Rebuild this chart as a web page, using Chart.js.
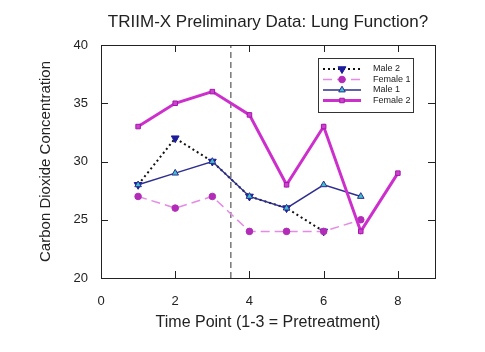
<!DOCTYPE html>
<html>
<head>
<meta charset="utf-8">
<script src="https://cdn.jsdelivr.net/npm/chart.js@4"></script>
<style>
  html, body { margin: 0; padding: 0; background: #fff; }
  #wrap { width: 485px; height: 352px; }
</style>
</head>
<body>
<div id="wrap"><canvas id="c" width="485" height="352"></canvas></div>
<script>
// values
const male2X = [1, 2, 3, 4, 5, 6];
const male2Y = [28, 32, 30, 27, 26, 24];
const female1X = [1, 2, 3, 4, 5, 6, 7];
const female1Y = [27, 26, 27, 24, 24, 24, 25];
const male1X = [1, 2, 3, 4, 5, 6, 7];
const male1Y = [28, 29, 30, 27, 26, 28, 27];
const female2X = [1, 2, 3, 4, 5, 6, 7, 8];
const female2Y = [33, 35, 36, 34, 28, 33, 24, 29];
const xTicks = [0, 2, 4, 6, 8];
const splitX = 3.5;
const yRange = [20, 40];
const seriesNames = ["Male 2", "Female 1", "Male 1", "Female 2"];

function pts(xs, ys) { return xs.map((x, i) => ({ x: x, y: ys[i] })); }

const FONT = "'Liberation Sans', Arial, sans-serif";

// frame + inward ticks, title, legend
const framePlugin = {
  id: "frame",
  afterDraw(chart) {
    const ctx = chart.ctx, a = chart.chartArea;
    const xs = chart.scales.x, ys = chart.scales.y;
    ctx.save();
    ctx.strokeStyle = "#222";
    ctx.lineWidth = 1;
    ctx.strokeRect(a.left + 0.5, a.top + 0.5, a.right - a.left, a.bottom - a.top);
    ctx.beginPath();
    xs.ticks.forEach(t => {
      if (t.value <= xs.min || t.value >= xs.max) return;
      const px = Math.round(xs.getPixelForValue(t.value)) + 0.5;
      ctx.moveTo(px, a.bottom); ctx.lineTo(px, a.bottom - 7);
      ctx.moveTo(px, a.top); ctx.lineTo(px, a.top + 7);
    });
    ys.ticks.forEach(t => {
      if (t.value <= ys.min || t.value >= ys.max) return;
      const py = Math.round(ys.getPixelForValue(t.value)) + 0.5;
      ctx.moveTo(a.left, py); ctx.lineTo(a.left + 7, py);
      ctx.moveTo(a.right, py); ctx.lineTo(a.right - 7, py);
    });
    ctx.stroke();

    // title
    ctx.fillStyle = "#222";
    ctx.font = "17px " + FONT;
    ctx.textAlign = "center";
    ctx.textBaseline = "middle";
    ctx.fillText("TRIIM-X Preliminary Data: Lung Function?", (a.left + a.right) / 2, 22);

    // legend box
    const bx = 318, by = 58, bw = 95, bh = 54;
    ctx.fillStyle = "#fff";
    ctx.fillRect(bx, by, bw, bh);
    ctx.strokeStyle = "#333";
    ctx.strokeRect(bx + 0.5, by + 0.5, bw, bh);
    ctx.font = "9px " + FONT;
    ctx.textAlign = "left";
    seriesNames.forEach((name, i) => {
      const ds = chart.data.datasets.find(d => d.label === name);
      const yy = by + 11 + i * 10.5;
      ctx.save();
      ctx.strokeStyle = ds.borderColor;
      ctx.lineWidth = ds.borderWidth;
      ctx.setLineDash(ds.borderDash || []);
      ctx.beginPath();
      ctx.moveTo(bx + 5, yy); ctx.lineTo(bx + 43, yy);
      ctx.stroke();
      ctx.setLineDash([]);
      ctx.fillStyle = ds.pointBackgroundColor;
      ctx.strokeStyle = ds.pointBorderColor;
      ctx.lineWidth = ds.pointBorderWidth;
      Chart.helpers.drawPoint(ctx, {
        pointStyle: ds.pointStyle, rotation: ds.pointRotation || 0,
        radius: ds.pointRadius, borderWidth: ds.pointBorderWidth
      }, bx + 24, yy);
      ctx.restore();
      ctx.fillStyle = "#222";
      ctx.fillText(name, bx + 55, yy);
    });
    ctx.restore();
  }
};

new Chart(document.getElementById("c"), {
  type: "line",
  data: {
    datasets: [
      {
        label: "Female 2", data: pts(female2X, female2Y),
        borderColor: "#cc2fcc", borderWidth: 3,
        pointStyle: "rect", pointRadius: 3.2, pointBackgroundColor: "#d040d0",
        pointBorderColor: "#a018a8", pointBorderWidth: 1
      },
      {
        label: "Male 1", data: pts(male1X, male1Y),
        borderColor: "#2e2e90", borderWidth: 1.5,
        pointStyle: "triangle", pointRadius: 3.8, pointBackgroundColor: "#3fc0cc",
        pointBorderColor: "#2e2e90", pointBorderWidth: 1
      },
      {
        label: "Female 1", data: pts(female1X, female1Y),
        borderColor: "#e58ae5", borderWidth: 1.5, borderDash: [9, 5],
        pointStyle: "circle", pointRadius: 3.3, pointBackgroundColor: "#b22cb8",
        pointBorderColor: "#b22cb8", pointBorderWidth: 1
      },
      {
        label: "Male 2", data: pts(male2X, male2Y),
        borderColor: "#111", borderWidth: 2, borderDash: [2, 3],
        pointStyle: "triangle", pointRotation: 180, pointRadius: 4.5,
        pointBackgroundColor: "#1c1c9c", pointBorderColor: "#1c1c9c", pointBorderWidth: 1
      },
      {
        label: "split", data: [{ x: splitX, y: yRange[0] }, { x: splitX, y: yRange[1] }],
        borderColor: "#333", borderWidth: 1, borderDash: [6, 4], pointRadius: 0
      }
    ]
  },
  options: {
    responsive: false,
    animation: false,
    layout: { padding: { top: 45, right: 50, left: 0, bottom: 0 } },
    plugins: { legend: { display: false }, tooltip: { enabled: false } },
    elements: { line: { tension: 0 } },
    scales: {
      x: {
        type: "linear", min: 0, max: 9,
        grid: { display: false }, border: { display: false },
        afterBuildTicks(s) { s.ticks = xTicks.map(v => ({ value: v })); },
        ticks: { color: "#222", font: { family: FONT, size: 13 }, padding: 8 },
        title: { display: true, text: "Time Point (1-3 = Pretreatment)", color: "#222",
                 font: { family: FONT, size: 16 }, padding: { top: 0, bottom: 20 } },
        afterFit(s) { s.height = 74; }
      },
      y: {
        min: yRange[0], max: yRange[1],
        grid: { display: false }, border: { display: false },
        ticks: { stepSize: 5, color: "#222", font: { family: FONT, size: 13 }, padding: 5 },
        title: { display: true, text: "Carbon Dioxide Concentration", color: "#222",
                 font: { family: FONT, size: 15 }, padding: { top: 37, bottom: 0 } },
        afterFit(s) { s.width = 101; }
      }
    }
  },
  plugins: [framePlugin]
});
</script>
</body>
</html>
